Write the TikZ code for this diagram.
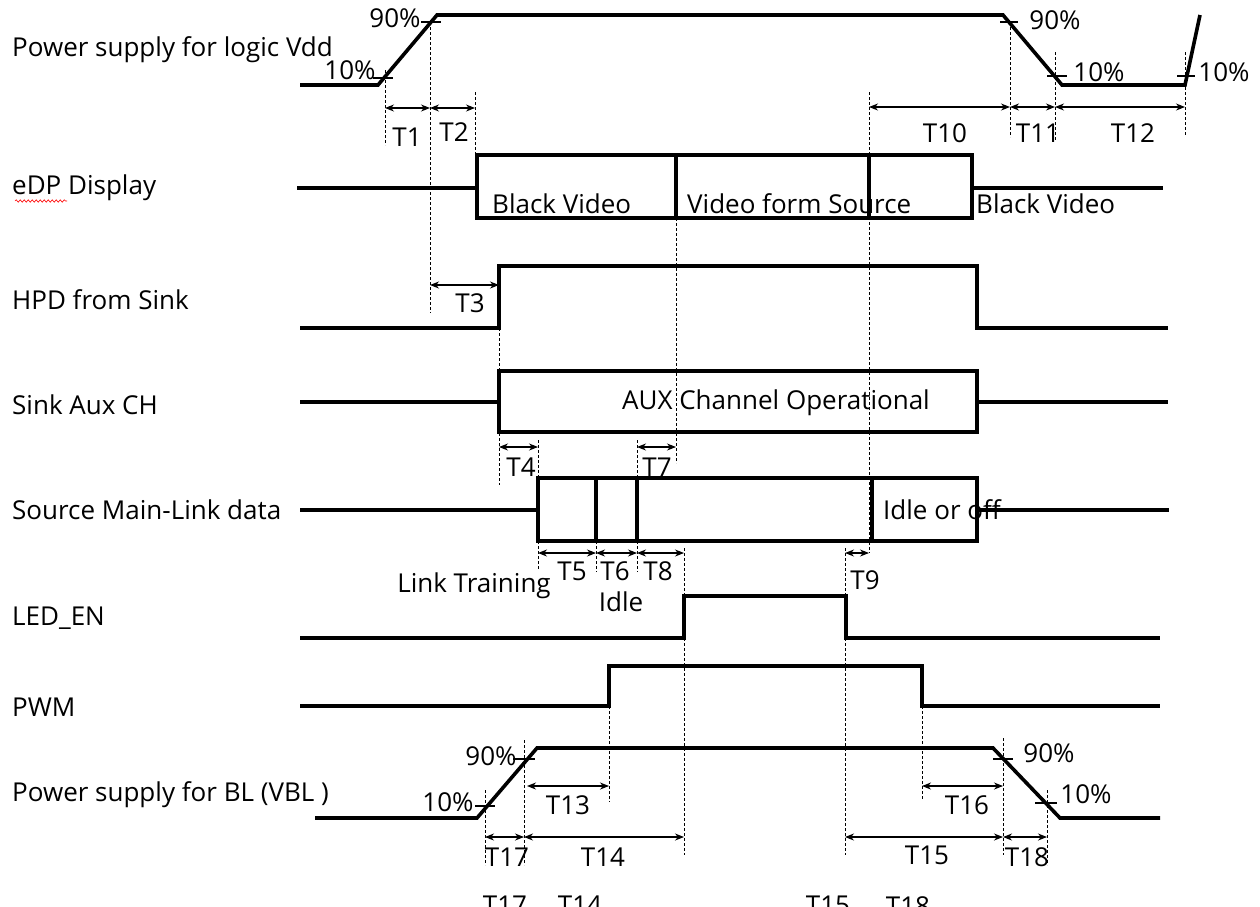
\documentclass[tikz,border=0pt]{standalone}
\usepackage{fontspec}
\setmainfont{Open Sans}
\usetikzlibrary{arrows.meta,decorations.pathmorphing}
\begin{document}
\begin{tikzpicture}[x=1pt,y=-1pt,
 sig/.style={line width=3.6pt, line join=miter, line cap=butt},
 guide/.style={line width=0.9pt, dash pattern=on 3pt off 2pt},
 dim/.style={line width=1.1pt, {Stealth[length=9pt,width=7pt]}-{Stealth[length=9pt,width=7pt]}},
 tickm/.style={line width=2pt},
 txt/.style={font=\fontsize{26}{30}\selectfont, inner sep=0pt},
 rowlbl/.style={txt, anchor=west}]
\useasboundingbox (0,0) rectangle (1260,906);

% ---------- row labels
\node[rowlbl] (l1) at (12,50) {Power supply for logic Vdd};
\node[rowlbl] (l2) at (12,188) {eDP Display};
\node[rowlbl] (l3) at (12,300) {HPD from Sink};
\node[rowlbl] (l4) at (12,405) {Sink Aux CH};
\node[rowlbl] (l5) at (12,510) {Source Main-Link data};
\node[rowlbl] (l6) at (12,618) {LED\_EN};
\node[rowlbl] (l7) at (12,707) {PWM};
\node[rowlbl] (l8) at (12,795) {Power supply for BL (VBL )};
\draw[red, line width=0.6pt, decorate, decoration={snake, amplitude=1.2pt, segment length=4pt}] (15,201) -- (67,201);

% ---------- guides (dashed)
\draw[guide] (385,70) -- (385,145);
\draw[guide] (430,22) -- (430,313);
\draw[guide] (475,92) -- (475,218);
\draw[guide] (869,92) -- (869,553);
\draw[guide] (1010,22) -- (1010,137);
\draw[guide] (1055,52) -- (1055,140);
\draw[guide] (1185,52) -- (1185,135);
\draw[guide] (676,218) -- (676,463);
\draw[guide] (499,328) -- (499,485);
\draw[guide] (538,440) -- (538,478);
\draw[guide] (637,440) -- (637,478);
\draw[guide] (538,541) -- (538,570);
\draw[guide] (596,541) -- (596,572);
\draw[guide] (637,541) -- (637,572);
\draw[guide] (684,548) -- (684,855);
\draw[guide] (845,548) -- (845,855);
\draw[guide] (609,706) -- (609,802);
\draw[guide] (922,706) -- (922,800);
\draw[guide] (485,790) -- (485,865);
\draw[guide] (524,740) -- (524,865);
\draw[guide] (1003,738) -- (1003,855);
\draw[guide] (1047,790) -- (1047,865);

% ---------- row 1 : Vdd
\draw[sig] (300,85) -- (378,85) -- (437,15) -- (1003,15) -- (1062,85) -- (1185,85) -- (1200,15);
\draw[tickm] (373,78) -- (393,78);
\draw[tickm] (421,22) -- (441,22);
\draw[tickm] (1000,22) -- (1018,22);
\draw[tickm] (1047,76) -- (1067,76);
\draw[tickm] (1177,76) -- (1195,76);
\node[txt] (p10a) at (350,70) {10\%};
\node[txt] (p90a) at (395,18) {90\%};
\node[txt] (p90b) at (1055,20) {90\%};
\node[txt] (p10b) at (1099,72) {10\%};
\node[txt] (p10c) at (1224,72) {10\%};
\draw[dim] (385,108) -- (430,108);
\draw[dim] (430,108) -- (475,108);
\draw[dim] (869,107) -- (1010,107);
\draw[dim] (1010,107) -- (1055,107);
\draw[dim] (1055,107) -- (1185,107);
\node[txt] (t1) at (407,137) {T1};
\node[txt] (t2) at (454,132) {T2};
\node[txt] (t10) at (945,133) {T10};
\node[txt] (t11) at (1038,133) {T11};
\node[txt] (t12) at (1133,133) {T12};

% ---------- row 2 : eDP
\draw[sig] (297,188) -- (477,188);
\draw[sig] (477,155) rectangle (972,218);
\draw[sig] (676,155) -- (676,218);
\draw[sig] (869,155) -- (869,218);
\draw[sig] (972,188) -- (1163,188);
\node[txt, anchor=west] (bv1) at (492,204) {Black Video};
\node[txt, anchor=west] (vfs) at (687,204) {Video form Source};
\node[txt, anchor=west] (bv2) at (976,204) {Black Video};

% ---------- row 3 : HPD
\draw[sig] (300,328) -- (499,328) -- (499,266) -- (977,266) -- (977,328) -- (1168,328);
\draw[dim] (430,285) -- (499,285);
\node[txt] (t3) at (470,303) {T3};

% ---------- row 4 : Aux
\draw[sig] (300,402) -- (499,402);
\draw[sig] (499,371) rectangle (977,432);
\draw[sig] (977,402) -- (1168,402);
\node[txt, anchor=west] (aux) at (622,403) {AUX Channel Operational};
\draw[dim] (499,447) -- (538,447);
\draw[dim] (637,447) -- (676,447);
\node[txt] (t4) at (521,467) {T4};
\node[txt] (t7) at (657,467) {T7};

% ---------- row 5 : Main link
\draw[sig] (300,510) -- (538,510);
\draw[sig] (538,478) rectangle (977,541);
\draw[sig] (596,478) -- (596,541);
\draw[sig] (637,478) -- (637,541);
\draw[sig] (872,478) -- (872,541);
\draw[sig] (977,510) -- (1169,510);
\node[txt, anchor=west] (iof) at (883,510) {Idle or off};
\draw[dim] (538,553) -- (596,553);
\draw[dim] (596,553) -- (637,553);
\draw[dim] (637,553) -- (684,553);
\draw[dim] (845,553) -- (869,553);
\node[txt] (t5) at (572,571) {T5};
\node[txt] (t6) at (615,571) {T6};
\node[txt] (t8) at (658,571) {T8};
\node[txt] (t9) at (865,580) {T9};
\node[txt] (lt) at (474,586) {Link Training};
\node[txt] (idl) at (621,602) {Idle};

% ---------- row 6 : LED_EN
\draw[sig] (300,638) -- (684,638) -- (684,596) -- (846,596) -- (846,638) -- (1160,638);

% ---------- row 7 : PWM
\draw[sig] (300,706) -- (609,706) -- (609,666) -- (922,666) -- (922,706) -- (1160,706);

% ---------- row 8 : VBL
\draw[sig] (315,818) -- (477,818) -- (537,748) -- (993,748) -- (1060,818) -- (1160,818);
\draw[tickm] (475,806) -- (495,806);
\draw[tickm] (513,759) -- (535,759);
\draw[tickm] (993,759) -- (1013,759);
\draw[tickm] (1035,803) -- (1057,803);
\node[txt] (p90c) at (491,756) {90\%};
\node[txt] (p10d) at (448,802) {10\%};
\node[txt] (p90d) at (1049,753) {90\%};
\node[txt] (p10e) at (1086,794) {10\%};
\draw[dim] (527,786) -- (609,786);
\draw[dim] (922,786) -- (1003,786);
\draw[dim] (485,837) -- (524,837);
\draw[dim] (524,837) -- (684,837);
\draw[dim] (845,837) -- (1003,837);
\draw[dim] (1003,837) -- (1047,837);
\node[txt] (t13) at (568,805) {T13};
\node[txt] (t16) at (967,805) {T16};
\node[txt] (t17) at (507,857) {T17};
\node[txt] (t14) at (603,857) {T14};
\node[txt] (t15) at (927,855) {T15};
\node[txt] (t18) at (1027,857) {T18};

% ---------- cut-off labels at the bottom edge
\begin{scope}
\clip (0,0) rectangle (1260,906);
\node[txt, anchor=north] (g17) at (505,896) {T17};
\node[txt, anchor=north] (g14) at (580,896) {T14};
\node[txt, anchor=north] (g15) at (828,896) {T15};
\node[txt, anchor=north] (g18) at (908,896) {T18};
\end{scope}
\end{tikzpicture}
\end{document}
